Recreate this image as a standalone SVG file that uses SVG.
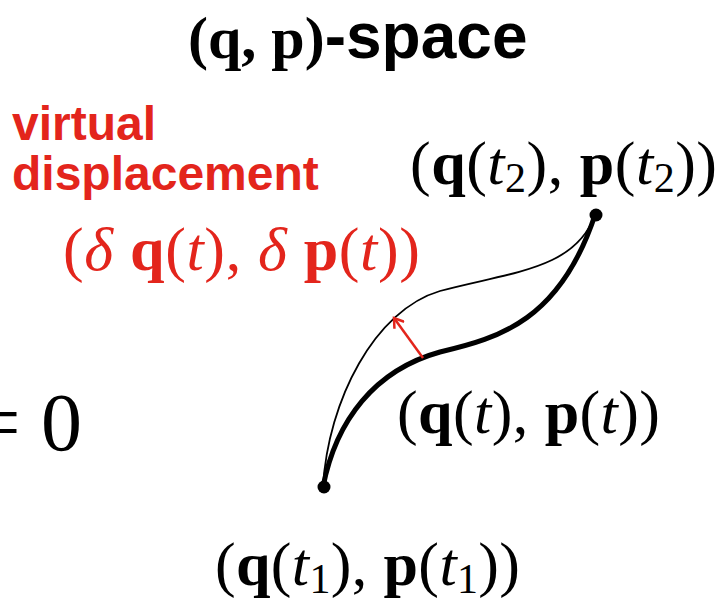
<svg xmlns="http://www.w3.org/2000/svg" width="722" height="602" viewBox="0 0 722 602">
<style>
.m{font-family:"Liberation Serif","Times New Roman",serif;font-size:62px;fill:#000}
.b{font-weight:bold}
.i{font-style:italic}
.s{font-size:42px}
.sans{font-family:"Liberation Sans",Arial,sans-serif;font-weight:bold}
.red{fill:#e3251c}
.zero{font-family:"Liberation Serif","Times New Roman",serif;font-size:82px}
</style>
<defs>
<marker id="ah" markerWidth="14" markerHeight="14" refX="10" refY="7" orient="auto" markerUnits="userSpaceOnUse">
<path d="M1,1 L10,7 L1,13" fill="none" stroke="#e3251c" stroke-width="2.5"/>
</marker>
</defs>
<rect width="722" height="602" fill="#fff"/>
<g id="title">
<text x="188" y="58" class="m b" style="font-size:60px">(q, p)<tspan class="sans" style="font-size:64px">-space</tspan></text>
</g>
<g id="virtual-label">
<text x="12" y="140" class="sans red" style="font-size:48px">virtual</text>
<text x="12" y="190" class="sans red" style="font-size:48px">displacement</text>
<text x="63" y="270" class="m red" textLength="357" lengthAdjust="spacing">(<tspan class="i">δ</tspan> <tspan class="b">q</tspan>(<tspan class="i">t</tspan>), <tspan class="i">δ</tspan> <tspan class="b">p</tspan>(<tspan class="i">t</tspan>))</text>
</g>
<g id="eq">
<text x="82" y="450" class="zero" text-anchor="end">= 0</text>
</g>
<g id="connectors">
<path d="M323,487 C336,420 375,370 440,352 C500,338 560,320 595,215" fill="none" stroke="#000" stroke-width="5"/>
<path d="M323,487 C328,400 375,310 440,291 C510,272 575,270 595,215" fill="none" stroke="#000" stroke-width="1.8"/>
<line x1="423" y1="358" x2="394" y2="318" stroke="#e3251c" stroke-width="2.5" marker-end="url(#ah)"/>
</g>
<g id="start">
<circle cx="324" cy="487" r="6.5" fill="#000"/>
<text x="215" y="585" class="m" textLength="305" lengthAdjust="spacing">(<tspan class="b">q</tspan>(<tspan class="i">t</tspan><tspan class="s" dy="8">1</tspan><tspan dy="-8">), </tspan><tspan class="b">p</tspan>(<tspan class="i">t</tspan><tspan class="s" dy="8">1</tspan><tspan dy="-8">))</tspan></text>
</g>
<g id="end">
<circle cx="596" cy="215" r="6.5" fill="#000"/>
<text x="410" y="184" class="m" textLength="307" lengthAdjust="spacing">(<tspan class="b">q</tspan>(<tspan class="i">t</tspan><tspan class="s" dy="8">2</tspan><tspan dy="-8">), </tspan><tspan class="b">p</tspan>(<tspan class="i">t</tspan><tspan class="s" dy="8">2</tspan><tspan dy="-8">))</tspan></text>
</g>
<g id="path-label">
<text x="397" y="433" class="m" textLength="263" lengthAdjust="spacing">(<tspan class="b">q</tspan>(<tspan class="i">t</tspan>), <tspan class="b">p</tspan>(<tspan class="i">t</tspan>))</text>
</g>
</svg>
